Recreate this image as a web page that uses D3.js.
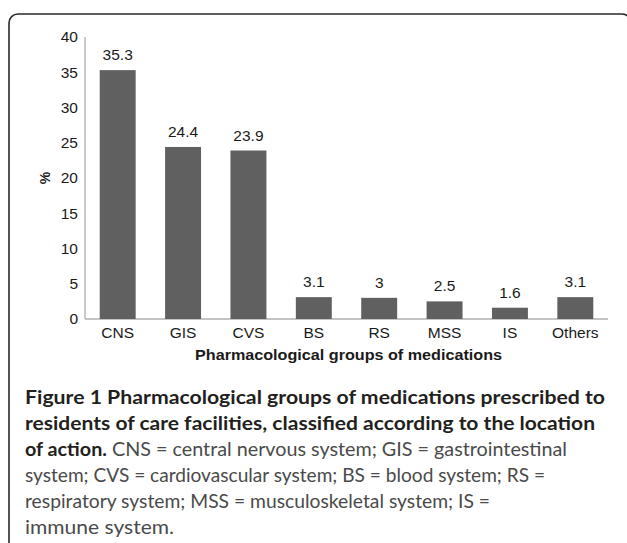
<!DOCTYPE html>
<html>
<head>
<meta charset="utf-8">
<script src="https://cdn.jsdelivr.net/npm/d3@7"></script>
<style>
  body { margin: 0; background: #fff; }
  svg { display: block; }
</style>
</head>
<body>
<svg id="chart" width="627" height="543"></svg>
<script>
const categories = ["CNS", "GIS", "CVS", "BS", "RS", "MSS", "IS", "Others"];
const values = [35.3, 24.4, 23.9, 3.1, 3, 2.5, 1.6, 3.1];
const valueLabels = ["35.3", "24.4", "23.9", "3.1", "3", "2.5", "1.6", "3.1"];
const yTicks = [0, 5, 10, 15, 20, 25, 30, 35, 40];
const xTitle = "Pharmacological groups of medications";
const yTitle = "%";
const captionLines = [
    [{ t: "Figure 1 Pharmacological groups of medications prescribed to", b: true }],
    [{ t: "residents of care facilities, classified according to the location", b: true }],
    [{ t: "of action.", b: true }, { t: " CNS = central nervous system; GIS = gastrointestinal", b: false }],
    [{ t: "system; CVS = cardiovascular system; BS = blood system; RS =", b: false }],
    [{ t: "respiratory system; MSS = musculoskeletal system; IS =", b: false }],
    [{ t: "immune system.", b: false }],
];
const captionWidths = [580, 570, 542, 520, 465, 149];

const svg = d3.select("#chart");

// Frame around the figure
svg.append("rect")
    .attr("x", 9)
    .attr("y", 14)
    .attr("width", 622)
    .attr("height", 620)
    .attr("rx", 9)
    .attr("fill", "none")
    .attr("stroke", "#2a2a2a")
    .attr("stroke-width", 1.6);

const margin = { left: 85, right: 608, top: 37, bottom: 319 };

const x = d3.scaleBand()
    .domain(categories)
    .range([margin.left, margin.right])
    .paddingInner(0.45)
    .paddingOuter(0.225);

const y = d3.scaleLinear()
    .domain([0, 40])
    .range([margin.bottom, margin.top]);

const font = "'Liberation Sans', Arial, sans-serif";

// Axes lines
svg.append("line")
    .attr("x1", margin.left).attr("x2", margin.left)
    .attr("y1", margin.top).attr("y2", margin.bottom)
    .attr("stroke", "#c4c4c4").attr("stroke-width", 1.8);

svg.append("line")
    .attr("x1", margin.left).attr("x2", margin.right)
    .attr("y1", margin.bottom).attr("y2", margin.bottom)
    .attr("stroke", "#c4c4c4").attr("stroke-width", 1.8);

// Y tick labels
const yAxis = d3.axisLeft(y).tickValues(yTicks).tickSize(0).tickPadding(7);
const yg = svg.append("g")
    .attr("transform", `translate(${margin.left},0)`)
    .call(yAxis);
yg.select(".domain").remove();
yg.selectAll("text")
    .attr("font-family", font)
    .attr("font-size", 15.5)
    .attr("fill", "#1a1a1a");

// X tick labels
const xAxis = d3.axisBottom(x).tickSize(0).tickPadding(8);
const xg = svg.append("g")
    .attr("transform", `translate(0,${margin.bottom})`)
    .call(xAxis);
xg.select(".domain").remove();
xg.selectAll("text")
    .attr("font-family", font)
    .attr("font-size", 15.5)
    .attr("fill", "#1a1a1a");

// Bars
svg.append("g")
    .selectAll("rect")
    .data(values)
    .join("rect")
    .attr("x", (d, i) => x(categories[i]))
    .attr("y", (d) => y(d))
    .attr("width", x.bandwidth())
    .attr("height", (d) => y(0) - y(d))
    .attr("fill", "#606060");

// Value labels
svg.append("g")
    .selectAll("text")
    .data(values)
    .join("text")
    .attr("x", (d, i) => x(categories[i]) + x.bandwidth() / 2)
    .attr("y", (d) => y(d) - 10)
    .attr("text-anchor", "middle")
    .attr("font-family", font)
    .attr("font-size", 15.5)
    .attr("fill", "#1a1a1a")
    .text((d, i) => valueLabels[i]);

// Axis titles
svg.append("text")
    .attr("x", (margin.left + margin.right) / 2 + 2)
    .attr("y", 360)
    .attr("text-anchor", "middle")
    .attr("font-family", font)
    .attr("font-size", 14)
    .attr("font-weight", "bold")
    .attr("fill", "#1a1a1a")
    .attr("textLength", 307)
    .attr("lengthAdjust", "spacingAndGlyphs")
    .text(xTitle);

svg.append("text")
    .attr("transform", `translate(50,${(margin.top + margin.bottom) / 2}) rotate(-90)`)
    .attr("text-anchor", "middle")
    .attr("font-family", font)
    .attr("font-size", 14)
    .attr("font-weight", "bold")
    .attr("fill", "#1a1a1a")
    .text(yTitle);

// Caption
const cap = svg.append("g");
captionLines.forEach((parts, i) => {
    const t = cap.append("text")
        .attr("x", 25)
        .attr("y", 404 + i * 26)
        .attr("font-family", "Lato, 'Open Sans', sans-serif")
        .attr("font-size", 19)
        .attr("textLength", captionWidths[i])
        .attr("lengthAdjust", "spacingAndGlyphs");
    parts.forEach((p) => {
        t.append("tspan")
            .attr("font-weight", p.b ? "bold" : "normal")
            .attr("fill", p.b ? "#231f20" : "#4a4a4a")
            .text(p.t);
    });
});
</script>
</body>
</html>
